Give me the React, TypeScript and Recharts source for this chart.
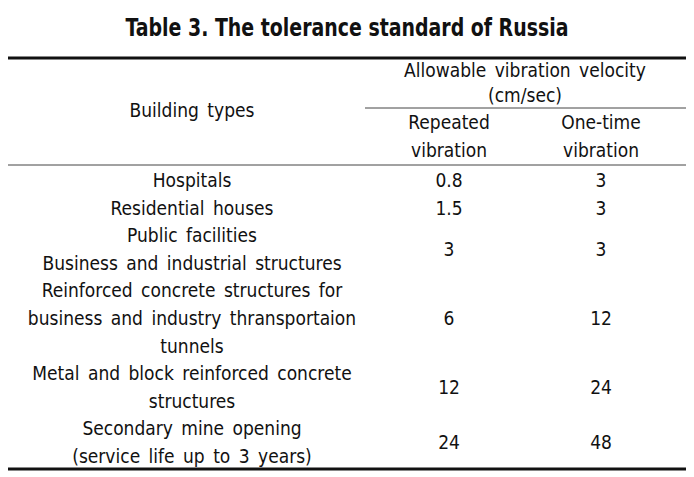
import { ComposedChart, Customized } from 'recharts'

const title = 'Table 3. The tolerance standard of Russia'
const headerMain = ['Allowable vibration velocity', '(cm/sec)']
const headerFirst = 'Building types'
const subHeaders = [['Repeated', 'vibration'], ['One-time', 'vibration']]

const buildingTypes = [
  ['Hospitals'],
  ['Residential houses'],
  ['Public facilities', 'Business and industrial structures'],
  ['Reinforced concrete structures for', 'business and industry thransportaion', 'tunnels'],
  ['Metal and block reinforced concrete', 'structures'],
  ['Secondary mine opening', '(service life up to 3 years)'],
]
const repeatedVibration = ['0.8', '1.5', '3', '6', '12', '24']
const oneTimeVibration = ['3', '3', '3', '12', '24', '48']

const W = 694
const H = 477
const FONT = '"DejaVu Sans Condensed", "Liberation Sans Narrow", sans-serif'
const INK = '#111'

const rows = buildingTypes.map((lines, i) => ({
  lines,
  repeated: repeatedVibration[i],
  oneTime: oneTimeVibration[i],
}))

function TableBody() {
  const left = 8
  const right = 686
  const colType = 192
  const colRep = 449
  const colOne = 601
  const lineH = 27.6
  let y = 180
  const cells: JSX.Element[] = []
  rows.forEach((r, i) => {
    const mid = y + ((r.lines.length - 1) * lineH) / 2
    r.lines.forEach((t, j) => {
      cells.push(
        <text key={`t${i}-${j}`} x={colType} y={y + j * lineH} textAnchor="middle" dominantBaseline="central">
          {t}
        </text>
      )
    })
    cells.push(
      <text key={`r${i}`} x={colRep} y={mid} textAnchor="middle" dominantBaseline="central">{r.repeated}</text>,
      <text key={`o${i}`} x={colOne} y={mid} textAnchor="middle" dominantBaseline="central">{r.oneTime}</text>
    )
    y += r.lines.length * lineH
  })
  return (
    <g fontFamily={FONT} fill={INK} fontSize={19} style={{ wordSpacing: 3 }}>
      <text
        x={W / 2}
        y={28}
        textAnchor="middle"
        dominantBaseline="central"
        fontSize={24}
        fontWeight="bold"
        textLength={443}
        lengthAdjust="spacingAndGlyphs"
        style={{ wordSpacing: 0 }}
      >
        {title}
      </text>
      <line x1={left} x2={right} y1={58} y2={58} stroke={INK} strokeWidth={3} />
      <text x={525} y={70} textAnchor="middle" dominantBaseline="central">{headerMain[0]}</text>
      <text x={525} y={95} textAnchor="middle" dominantBaseline="central">{headerMain[1]}</text>
      <line x1={365} x2={right} y1={108} y2={108} stroke="#444" strokeWidth={1} />
      <text x={colType} y={110} textAnchor="middle" dominantBaseline="central">{headerFirst}</text>
      {subHeaders.map((s, i) =>
        s.map((t, j) => (
          <text key={`s${i}-${j}`} x={i === 0 ? colRep : colOne} y={122 + j * 28} textAnchor="middle" dominantBaseline="central">
            {t}
          </text>
        ))
      )}
      <line x1={left} x2={right} y1={165} y2={165} stroke="#444" strokeWidth={1} />
      {cells}
      <line x1={left} x2={right} y1={469} y2={469} stroke={INK} strokeWidth={3} />
    </g>
  )
}

export default function App() {
  return (
    <div style={{ position: 'absolute', left: 0, top: 0, background: '#fff' }}>
      <ComposedChart width={W} height={H} data={rows} margin={{ top: 0, right: 0, bottom: 0, left: 0 }}>
        <Customized component={TableBody} />
      </ComposedChart>
    </div>
  )
}
